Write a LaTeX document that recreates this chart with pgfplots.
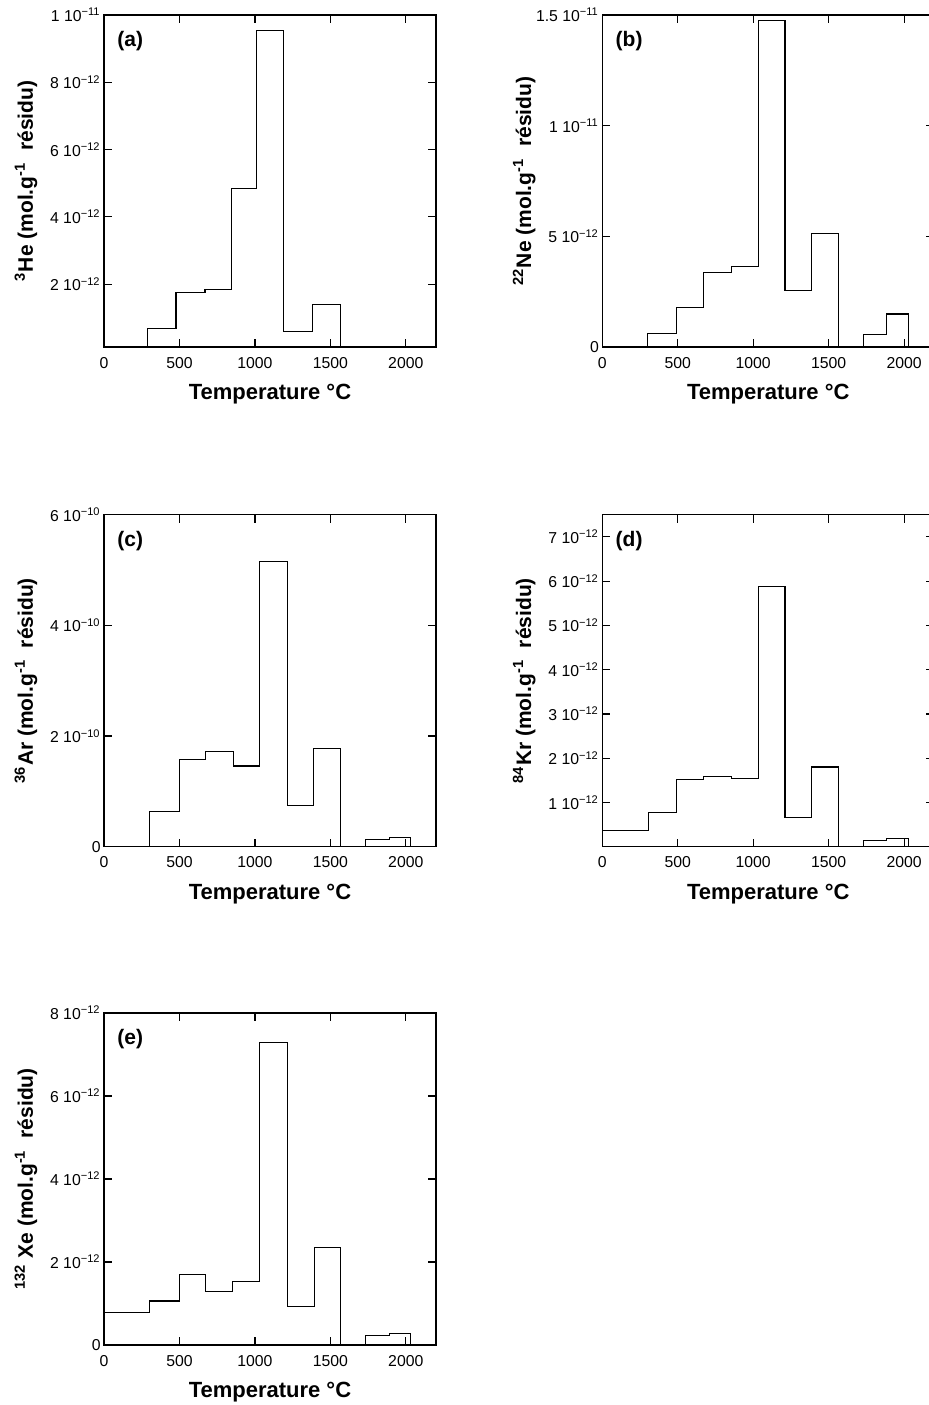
\documentclass[border=0pt]{standalone}
\usepackage{pgfplots}
\pgfplotsset{compat=1.18}
\usepackage{fontspec}
\setmainfont{Liberation Sans}
\newcommand{\tl}[2]{#1 10\textsuperscript{#2}}
\pgfplotsset{
  panel/.style={
    scale only axis, width=166pt, height=166pt,
    anchor=south west,
    xmin=0, xmax=2200,
    xtick={0,500,1000,1500,2000},
    xticklabels={0,500,1000,1500,2000},
    scaled y ticks=false, scaled x ticks=false,
    tick align=inside,
    major tick length=4pt,
    axis line style={line width=0.6pt},
    every tick/.style={black, line width=0.6pt},
    tick label style={font=\fontsize{7.9}{9}\selectfont},
    xticklabel style={yshift=-1.5pt},
    yticklabel style={inner sep=1.5pt},
    xlabel={Temperature °C},
    xlabel style={font=\bfseries\fontsize{11}{13}\selectfont, at={(axis description cs:0.5,0)}, anchor=center, yshift=-23.5pt},
    ylabel style={font=\bfseries\fontsize{10.5}{12}\selectfont, at={(axis description cs:-0.235,0.5)}, anchor=center},
    clip=true,
  },
  stepline/.style={const plot, black, line width=0.55pt, mark=none},
}
\tikzset{plab/.style={anchor=north west, inner sep=0pt, font=\bfseries\fontsize{10.5}{12}\selectfont, xshift=6.5pt, yshift=-8pt}}
\begin{document}
\begin{tikzpicture}
\path[use as bounding box] (-52pt,-529pt) rectangle (412pt,173.5pt);

% (a) 3He
\begin{axis}[panel, at={(0pt,0pt)},
  ymin=1.3e-13, ymax=1e-11,
  ytick={2e-12,4e-12,6e-12,8e-12,1e-11},
  yticklabels={\tl{2}{−12},\tl{4}{−12},\tl{6}{−12},\tl{8}{−12},\tl{1}{−11}},
  ylabel={\textsuperscript{3}He (mol.g\textsuperscript{-1}\ \ résidu)}]
\addplot[stepline] coordinates {(291,0) (291,0.68e-12) (477,1.76e-12) (669,1.84e-12) (843,4.85e-12) (1011,9.55e-12) (1192,0.59e-12) (1384,1.40e-12) (1565,0)};
\node[plab] at (axis description cs:0,1) {(a)};
\end{axis}

% (b) 22Ne
\begin{axis}[panel, at={(249.15pt,0pt)},
  ymin=0, ymax=1.5e-11,
  ytick={0,5e-12,1e-11,1.5e-11},
  yticklabels={0,\tl{5}{−12},\tl{1}{−11},\tl{1.5}{−11}},
  ylabel={\textsuperscript{22}Ne (mol.g\textsuperscript{-1}\ \ résidu)}]
\addplot[stepline] coordinates {(300,0) (300,0.60e-12) (490,1.77e-12) (672,3.36e-12) (857,3.63e-12) (1033,14.77e-12) (1211,2.54e-12) (1386,5.12e-12) (1564,0) (1728,0.55e-12) (1885,1.49e-12) (2028,0)};
\node[plab] at (axis description cs:0,1) {(b)};
\end{axis}

% (c) 36Ar
\begin{axis}[panel, at={(0pt,-249.85pt)},
  ymin=0, ymax=6e-10,
  ytick={0,2e-10,4e-10,6e-10},
  yticklabels={0,\tl{2}{−10},\tl{4}{−10},\tl{6}{−10}},
  ylabel={\textsuperscript{36}Ar (mol.g\textsuperscript{-1}\ \ résidu)}]
\addplot[stepline] coordinates {(300,0) (300,0.643e-10) (500,1.573e-10) (675,1.728e-10) (856,1.458e-10) (1033,5.155e-10) (1214,0.75e-10) (1386,1.78e-10) (1567,0) (1733,0.133e-10) (1890,0.17e-10) (2033,0)};
\node[plab] at (axis description cs:0,1) {(c)};
\end{axis}

% (d) 84Kr
\begin{axis}[panel, at={(249.15pt,-249.85pt)},
  ymin=0, ymax=7.5e-12,
  ytick={1e-12,2e-12,3e-12,4e-12,5e-12,6e-12,7e-12},
  yticklabels={\tl{1}{−12},\tl{2}{−12},\tl{3}{−12},\tl{4}{−12},\tl{5}{−12},\tl{6}{−12},\tl{7}{−12}},
  ylabel={\textsuperscript{84}Kr (mol.g\textsuperscript{-1}\ \ résidu)}]
\addplot[stepline] coordinates {(0,0.36e-12) (306,0.78e-12) (490,1.51e-12) (672,1.58e-12) (857,1.54e-12) (1033,5.87e-12) (1211,0.66e-12) (1386,1.80e-12) (1564,0) (1728,0.135e-12) (1885,0.19e-12) (2028,0)};
\node[plab] at (axis description cs:0,1) {(d)};
\end{axis}

% (e) 132Xe
\begin{axis}[panel, at={(0pt,-499pt)},
  ymin=0, ymax=8e-12,
  ytick={0,2e-12,4e-12,6e-12,8e-12},
  yticklabels={0,\tl{2}{−12},\tl{4}{−12},\tl{6}{−12},\tl{8}{−12}},
  ylabel={\textsuperscript{132} Xe (mol.g\textsuperscript{-1}\ \ résidu)}]
\addplot[stepline] coordinates {(0,0.78e-12) (300,1.06e-12) (499,1.69e-12) (675,1.30e-12) (852,1.54e-12) (1033,7.29e-12) (1214,0.93e-12) (1392,2.36e-12) (1567,0) (1733,0.22e-12) (1890,0.28e-12) (2033,0)};
\node[plab] at (axis description cs:0,1) {(e)};
\end{axis}
\end{tikzpicture}
\end{document}
